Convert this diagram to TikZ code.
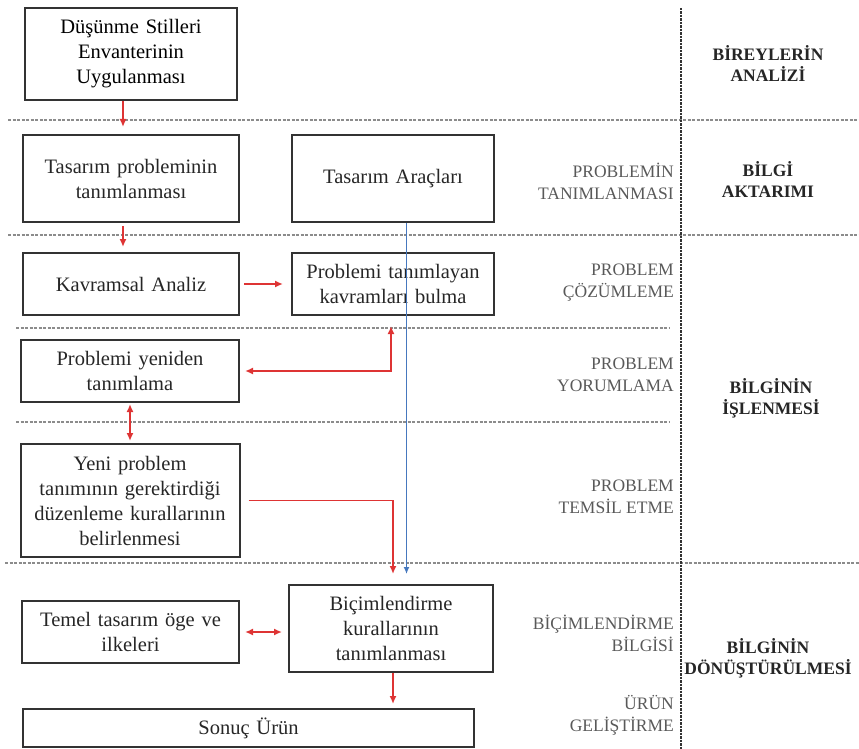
\documentclass[tikz,border=0pt]{standalone}
\usepackage{fontspec}
\setmainfont{Liberation Serif}
\usetikzlibrary{arrows.meta}

\definecolor{oklar}{RGB}{222,52,52}
\definecolor{mavicizgi}{RGB}{70,120,190}

\tikzset{
	kutu/.style={draw=black!80, line width=2pt, align=center, inner sep=0pt, text=black!85, font=\fontsize{20.5}{25}\selectfont},
	asama/.style={anchor=east, align=right, inner sep=0pt, text=black!65, font=\fontsize{17.5}{22}\selectfont},
	evre/.style={align=center, inner sep=0pt, text=black!85, font=\fontsize{17.5}{21}\selectfont\bfseries},
	ok/.style={draw=oklar, line width=1.8pt, -{Latex[length=8pt,width=7pt]}},
	ciftok/.style={draw=oklar, line width=1.8pt, {Latex[length=8pt,width=7pt]}-{Latex[length=8pt,width=7pt]}},
	kesik/.style={draw=black!45, line width=1.5pt, dash pattern=on 3pt off 1.5pt},
}

\begin{document}
\begin{tikzpicture}[x=1pt,y=-1pt]
	\useasboundingbox (0,0) rectangle (859,749);
	
	%dashed separators
	\draw[kesik] (8,120)--(859,120);
	\draw[kesik] (8,235)--(859,235);
	\draw[kesik] (16,328)--(669,328);
	\draw[kesik] (16,422)--(669,422);
	\draw[kesik] (5,563)--(859,563);
	\draw[black!80, line width=1.4pt, dash pattern=on 2.5pt off 1pt] (681,8)--(681,749);	%column line
	
	%boxes
	\node[kutu, text=black, text width=212pt, minimum height=92pt] (dsei) at (131,54) {Düşünme Stilleri\\Envanterinin\\Uygulanması};
	\node[kutu, text width=216pt, minimum height=87pt] (tanim) at (131,178.5) {Tasarım probleminin\\tanımlanması};
	\node[kutu, text width=202pt, minimum height=87pt] (araclar) at (393,178.5) {Tasarım Araçları};
	\node[kutu, text width=216pt, minimum height=62pt] (kavramsal) at (131,284) {Kavramsal Analiz};
	\node[kutu, text width=202pt, minimum height=62pt] (bulma) at (393,284) {Problemi tanımlayan\\kavramları bulma};
	\node[kutu, text width=218pt, minimum height=62pt] (yeniden) at (130,371) {Problemi yeniden\\tanımlama};
	\node[kutu, text width=219pt, minimum height=113pt] (yeni) at (130,500.5) {Yeni problem\\tanımının gerektirdiği\\düzenleme kurallarının\\belirlenmesi};
	\node[kutu, text width=217pt, minimum height=62pt] (temel) at (130.5,632) {Temel tasarım öge ve\\ilkeleri};
	\node[kutu, text width=204pt, minimum height=87pt] (bicim) at (391,628.5) {Biçimlendirme\\kurallarının\\tanımlanması};
	\node[kutu, text width=451pt, minimum height=38pt] (sonuc) at (248.5,728) {Sonuç Ürün};
	
	%stage labels
	\node[asama] (l1) at (674,181) {PROBLEMİN\\TANIMLANMASI};
	\node[asama] (l2) at (674,283) {PROBLEM\\ÇÖZÜMLEME};
	\node[asama] (l3) at (674,375) {PROBLEM\\YORUMLAMA};
	\node[asama] (l4) at (674,497) {PROBLEM\\TEMSİL ETME};
	\node[asama] (l5) at (674,633) {BİÇİMLENDİRME\\BİLGİSİ};
	\node[asama] (l6) at (674,715) {ÜRÜN\\GELİŞTİRME};
	
	%phase labels
	\node[evre] (r1) at (768,64) {BİREYLERİN\\ANALİZİ};
	\node[evre] (r2) at (768,180) {BİLGİ\\AKTARIMI};
	\node[evre] (r3) at (771,398) {BİLGİNİN\\İŞLENMESİ};
	\node[evre] (r4) at (768,658) {BİLGİNİN\\DÖNÜŞTÜRÜLMESİ};
	
	%arrows
	\draw[ok, shorten >=7pt] ([xshift=-8pt]dsei.south) -- ([xshift=-8pt]tanim.north);
	\draw[ok, shorten <=3pt, shorten >=5pt] ([xshift=-8pt]tanim.south) -- ([xshift=-8pt]kavramsal.north);
	\draw[ok, shorten <=4pt, shorten >=8pt] (kavramsal.east) -- (bulma.west);
	\draw[ciftok, shorten <=10pt, shorten >=5pt] ([xshift=-2pt]bulma.south) |- (yeniden.east);
	\draw[ciftok, shorten <=1pt, shorten >=2pt] (yeniden.south) -- (yeni.north);
	\draw[ok, shorten <=8pt, shorten >=10pt] (yeni.east) -| ([xshift=2pt]bicim.north);
	\draw[ciftok, shorten <=5pt, shorten >=6pt] (temel.east) -- (temel.east -| bicim.west);
	\draw[ok, shorten >=4pt] ([xshift=2pt]bicim.south) -- ([xshift=2pt]bicim.south |- sonuc.north);
	\draw[mavicizgi, line width=1.3pt, -{Latex[length=7pt,width=6pt]}, shorten >=10pt] ([xshift=13.5pt]araclar.south) -- ([xshift=15.5pt]bicim.north);	%tools line
\end{tikzpicture}
\end{document}
